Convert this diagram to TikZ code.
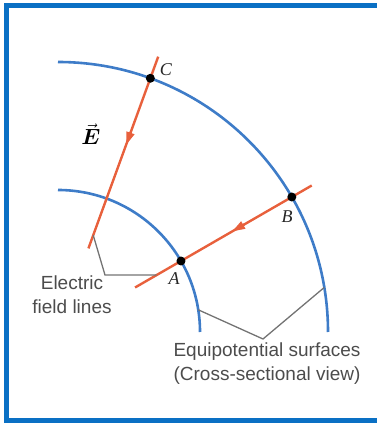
\RequirePackage{fix-cm}
\documentclass[tikz,border=0pt]{standalone}
\usepackage{amsmath}
\usepackage{fontspec}
\setsansfont{Liberation Sans}
\newfontfamily\pointfont{Liberation Serif}
\usetikzlibrary{arrows.meta}

\definecolor{frameblue}{RGB}{10,112,196}
\definecolor{surfblue}{RGB}{62,124,200}
\definecolor{fieldred}{RGB}{232,96,60}

\begin{document}
\begin{tikzpicture}[x=1pt,y=1pt,
  frame/.style={draw=frameblue,line width=5pt},
  surface/.style={draw=surfblue,line width=2.6pt},
  fieldline/.style={draw=fieldred,line width=2.4pt},
  fieldtip/.style={-{Triangle[length=13pt,width=8pt]}},
  dot/.style={circle,fill=black,inner sep=0pt,minimum size=9pt},
  point/.style={font=\pointfont\itshape\fontsize{18}{20}\selectfont,text=black!85},
  leader/.style={draw=black!55,line width=1.3pt},
  caption/.style={font=\sffamily\fontsize{19}{24}\selectfont,text=black!70,align=center},
]

\useasboundingbox (-58,-91) rectangle (319,332);
\draw[frame] (319,326.5) -- (-51.5,326.5) -- (-51.5,-88.5) -- (319,-88.5);

\coordinate (O) at (0,0);
\draw[surface] (90:142) arc[start angle=90,end angle=0,radius=142];
\draw[surface] (90:270) arc[start angle=90,end angle=0,radius=270];

\coordinate (Ctop) at (70:293);
\coordinate (Cbot) at (70:89);
\coordinate (Btop) at (30:293);
\coordinate (Abot) at (30:89);
\draw[fieldline] (Ctop) -- (Cbot);
\draw[fieldline] (Btop) -- (Abot);
\draw[fieldline,fieldtip] (70:213) -- (70:199);
\draw[fieldline,fieldtip] (30:215) -- (30:201);

\node[dot] (C) at (70:270) {};
\node[dot] (B) at (30:270) {};
\node[dot] (A) at (30:142) {};
\node[point] (Clabel) at (108,262) {C};
\node[point] (Blabel) at (229,115) {B};
\node[point] (Alabel) at (116,53) {A};
\node[font=\fontsize{22}{24}\selectfont] (Evec) at (33,198) {$\vec{\boldsymbol{E}}$};

\coordinate (fl1) at (70:103);
\coordinate (fl2) at (47,57);
\coordinate (fl3) at (30:114);
\draw[leader] (fl1) -- (fl2) -- (fl3);
\node[caption] (fieldtext) at (14,37) {Electric\\field lines};

\coordinate (eq1) at (9:142);
\coordinate (eq2) at (205,-7);
\coordinate (eq3) at (9.5:270);
\draw[leader] (eq1) -- (eq2) -- (eq3);
\node[caption] (surftext) at (209,-32) {Equipotential surfaces\\(Cross-sectional view)};

\end{tikzpicture}
\end{document}
